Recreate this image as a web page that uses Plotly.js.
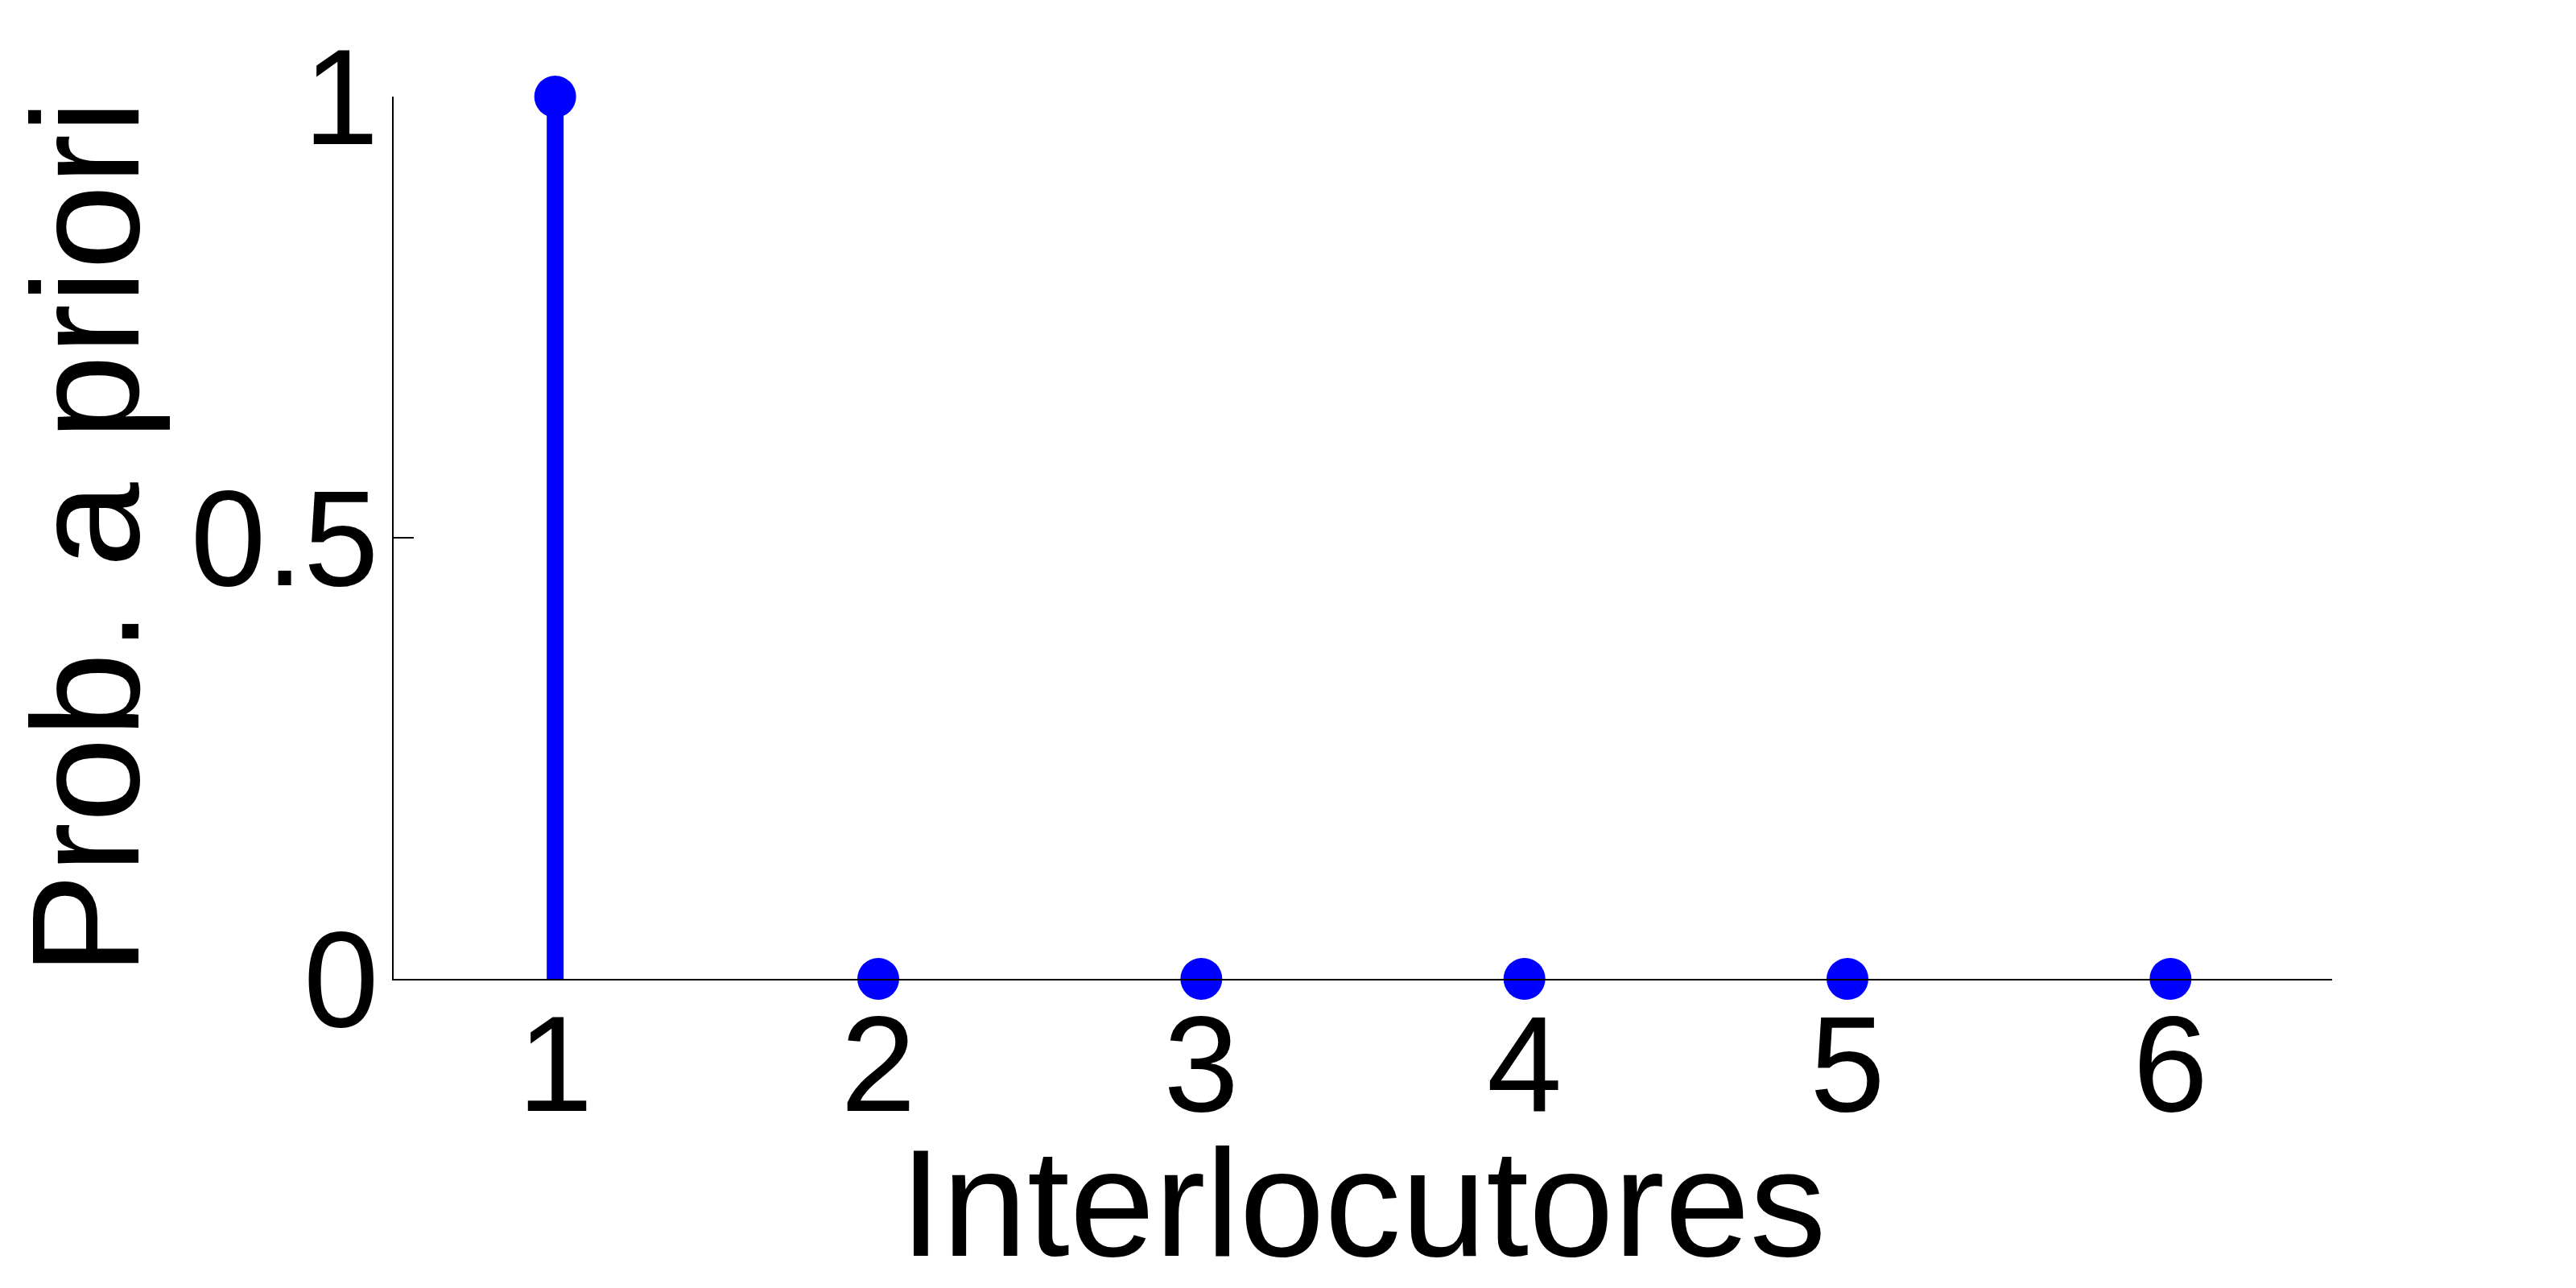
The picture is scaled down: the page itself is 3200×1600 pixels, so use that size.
<!DOCTYPE html>
<html>
<head>
<meta charset="utf-8">
<script src="https://cdn.plot.ly/plotly-3.0.1.min.js"></script>
<style>html,body{margin:0;padding:0;background:#fff;}#chart{width:3200px;height:1600px;}</style>
</head>
<body>
<div id="chart"></div>
<script>
// Data
var interlocutores = [1, 2, 3, 4, 5, 6];
var probAPriori = [1, 0, 0, 0, 0, 0];
var yTickVals = [0, 0.5, 1];
var yTickText = ['0', '0.5', '1'];
var xTitle = 'Interlocutores';
var yTitle = 'Prob. a priori';

// Build stems (vertical lines from 0 to value) from the data arrays
var stemX = [], stemY = [];
for (var i = 0; i < interlocutores.length; i++) {
  stemX.push(interlocutores[i], interlocutores[i], null);
  stemY.push(0, probAPriori[i], null);
}

var blue = '#0000ff';
var font = 'Liberation Sans, Arial, sans-serif';

var traces = [
  {
    type: 'scatter', mode: 'lines', x: stemX, y: stemY,
    line: {color: blue, width: 21}, hoverinfo: 'skip', showlegend: false,
    cliponaxis: false
  },
  {
    type: 'scatter', mode: 'markers', x: interlocutores, y: probAPriori,
    marker: {color: blue, size: 52, line: {width: 0}}, showlegend: false,
    cliponaxis: false
  }
];

var layout = {
  width: 3200, height: 1600,
  paper_bgcolor: '#ffffff', plot_bgcolor: '#ffffff',
  margin: {l: 489, r: 303, t: 120, b: 384, pad: 0},
  showlegend: false,
  font: {family: font, color: '#000000'},
  xaxis: {
    range: [0.5, 6.5], tickvals: interlocutores, ticktext: interlocutores.map(String),
    showgrid: false, zeroline: false, showline: true, linecolor: '#000', linewidth: 2,
    ticks: '', layer: 'above traces',
    tickfont: {size: 168, family: font, color: '#000'},
    ticklabelstandoff: -40,
    title: {text: xTitle, font: {size: 190, family: font, color: '#000'}, standoff: 75},
    automargin: false, fixedrange: true
  },
  yaxis: {
    range: [0, 1], tickvals: yTickVals, ticktext: yTickText,
    showgrid: false, zeroline: false, showline: true, linecolor: '#000', linewidth: 2,
    ticks: 'inside', ticklen: 25, tickwidth: 2, tickcolor: '#000', layer: 'above traces',
    tickfont: {size: 168, family: font, color: '#000'},
    ticklabelstandoff: -17,
    title: {text: yTitle, font: {size: 190, family: font, color: '#000'}, standoff: 55},
    automargin: false, fixedrange: true
  }
};

Plotly.newPlot('chart', traces, layout, {displayModeBar: false, staticPlot: true});
</script>
</body>
</html>
